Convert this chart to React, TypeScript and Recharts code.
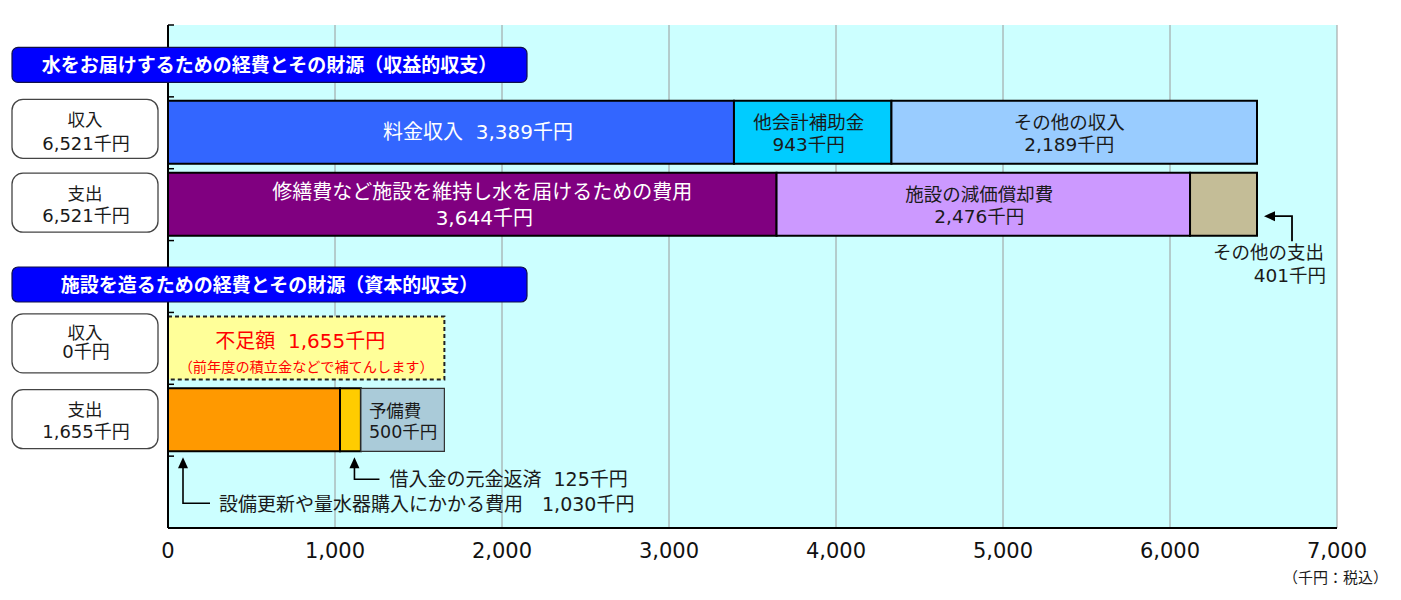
import React from "react";
import { BarChart, Bar, XAxis, YAxis, CartesianGrid, Cell, LabelList, Label } from "recharts";

// ---------- data ----------
const categories = ["収益的収支", "収益的収入", "収益的支出", "資本的収支", "資本的収入", "資本的支出", "注記"];
const headerTitles = [
  "水をお届けするための経費とその財源（収益的収支）",
  "",
  "",
  "施設を造るための経費とその財源（資本的収支）",
  "",
  "",
  "",
];
const rowTitles = ["", "収入", "支出", "", "収入", "支出", ""];
const rowTotals = ["", "6,521千円", "6,521千円", "", "0千円", "1,655千円", ""];

const seg1Values: (number | null)[] = [null, 3389, 3644, null, 1655, 1030, null];
const seg2Values: (number | null)[] = [null, 943, 2476, null, null, 125, null];
const seg3Values: (number | null)[] = [null, 2189, 401, null, null, 500, null];

const seg1Names = ["", "料金収入", "修繕費など施設を維持し水を届けるための費用", "", "不足額", "設備更新や量水器購入にかかる費用", ""];
const seg2Names = ["", "他会計補助金", "施設の減価償却費", "", "", "借入金の元金返済", ""];
const seg3Names = ["", "その他の収入", "その他の支出", "", "", "予備費", ""];
const shortfallNote = "（前年度の積立金などで補てんします）";
const unitNote = "（千円：税込）";

const xTicks = [0, 1000, 2000, 3000, 4000, 5000, 6000, 7000];

const seg1Fill = ["none", "#3366FF", "#800080", "none", "#FFFF99", "#FF9900", "none"];
const seg2Fill = ["none", "#00CCFF", "#CC99FF", "none", "none", "#FFCC00", "none"];
const seg3Fill = ["none", "#99CCFF", "#C4BD97", "none", "none", "#AACBD9", "none"];

const data = categories.map((cat, i) => ({
  cat,
  s1: seg1Values[i],
  s2: seg2Values[i],
  s3: seg3Values[i],
}));

// ---------- layout ----------
const W = 1385;
const H = 584;
const PLOT_LEFT = 160;
const PLOT_TOP = 17;
const PLOT_RIGHT = 1329;
const PLOT_BOTTOM = 520;
const X_AXIS_H = 40;
const BAND = (PLOT_BOTTOM - PLOT_TOP) / categories.length;

const FONT = "'DejaVu Sans', 'Noto Sans CJK JP', sans-serif";
const TXT = "#1a1a1a";

const fmt = (v: number) => `${v.toLocaleString("en-US")}千円`;

function rectOf(p: any) {
  const vb = p.viewBox || {};
  return {
    x: Number(vb.x ?? p.x),
    y: Number(vb.y ?? p.y),
    w: Number(vb.width ?? p.width),
    h: Number(vb.height ?? p.height),
  };
}

function indexOf(p: any, values: (number | null)[]) {
  let v = p.value;
  if (Array.isArray(v)) v = v[1] - v[0];
  const i = values.indexOf(Number(v));
  if (i >= 0) return i;
  return typeof p.index === "number" && values[p.index] != null ? p.index : -1;
}

const T = (props: any) => (
  <text
    fontFamily={FONT}
    dominantBaseline="central"
    textAnchor="middle"
    style={{ whiteSpace: "pre" }}
    {...props}
  />
);

function ArrowUp({ tx, ty, yEnd, xEnd }: { tx: number; ty: number; yEnd: number; xEnd: number }) {
  return (
    <g>
      <polygon points={`${tx},${ty} ${tx - 5},${ty + 11} ${tx + 5},${ty + 11}`} fill="#000" />
      <polyline points={`${tx},${ty + 10} ${tx},${yEnd} ${xEnd},${yEnd}`} fill="none" stroke="#000" strokeWidth={1.6} />
    </g>
  );
}

function renderSeg1(p: any) {
  const i = indexOf(p, seg1Values);
  if (i < 0) return null;
  const { x, y, w, h } = rectOf(p);
  const cx = x + w / 2;
  const cy = y + h / 2;
  const v = seg1Values[i] as number;
  if (i === 1) {
    return (
      <T x={cx + 27} y={cy} fill="#fff" fontSize={20}>
        {`${seg1Names[i]}  ${fmt(v)}`}
      </T>
    );
  }
  if (i === 2) {
    return (
      <g>
        <T x={cx + 10} y={cy - 12} fill="#fff" fontSize={20}>{seg1Names[i]}</T>
        <T x={cx + 12} y={cy + 14} fill="#fff" fontSize={20}>{fmt(v)}</T>
      </g>
    );
  }
  if (i === 4) {
    return (
      <g>
        <T x={cx - 6} y={cy - 7} fill="#FF0000" fontSize={20}>{`${seg1Names[i]}  ${fmt(v)}`}</T>
        <T x={cx} y={cy + 19} fill="#FF0000" fontSize={14.2}>{shortfallNote}</T>
      </g>
    );
  }
  if (i === 5) {
    const tx = x + 15;
    const ty = y + h + 6;
    const yEnd = ty + 46;
    return (
      <g>
        <ArrowUp tx={tx} ty={ty} yEnd={yEnd} xEnd={tx + 27} />
        <T x={tx + 36} y={yEnd + 1} textAnchor="start" fill={TXT} fontSize={19}>
          {`${seg1Names[i]}　${fmt(v)}`}
        </T>
      </g>
    );
  }
  return null;
}

function renderSeg2(p: any) {
  const i = indexOf(p, seg2Values);
  if (i < 0) return null;
  const { x, y, w, h } = rectOf(p);
  const cx = x + w / 2;
  const cy = y + h / 2;
  const v = seg2Values[i] as number;
  if (i === 1 || i === 2) {
    return (
      <g>
        <T x={cx - 4} y={cy - 10} fill={TXT} fontSize={18.5}>{seg2Names[i]}</T>
        <T x={cx - 4} y={cy + 12} fill={TXT} fontSize={18.5}>{fmt(v)}</T>
      </g>
    );
  }
  if (i === 5) {
    const tx = cx + 4;
    const ty = y + h + 6;
    const yEnd = ty + 22;
    return (
      <g>
        <ArrowUp tx={tx} ty={ty} yEnd={yEnd} xEnd={tx + 25} />
        <T x={tx + 35} y={yEnd} textAnchor="start" fill={TXT} fontSize={19}>
          {`${seg2Names[i]}  ${fmt(v)}`}
        </T>
      </g>
    );
  }
  return null;
}

function renderSeg3(p: any) {
  const i = indexOf(p, seg3Values);
  if (i < 0) return null;
  const { x, y, w, h } = rectOf(p);
  const cx = x + w / 2;
  const cy = y + h / 2;
  const v = seg3Values[i] as number;
  if (i === 1) {
    return (
      <g>
        <T x={cx - 5} y={cy - 10} fill={TXT} fontSize={18.5}>{seg3Names[i]}</T>
        <T x={cx - 5} y={cy + 12} fill={TXT} fontSize={18.5}>{fmt(v)}</T>
      </g>
    );
  }
  if (i === 2) {
    const tx = x + w + 7;
    const ty = cy + 12;
    return (
      <g>
        <polygon points={`${tx},${ty} ${tx + 11},${ty - 5} ${tx + 11},${ty + 5}`} fill="#000" />
        <polyline points={`${tx + 10},${ty} ${tx + 28},${ty} ${tx + 28},${ty + 25}`} fill="none" stroke="#000" strokeWidth={1.8} />
        <T x={tx + 60} y={ty + 36} textAnchor="end" fill={TXT} fontSize={18.5}>{seg3Names[i]}</T>
        <T x={tx + 62} y={ty + 59} textAnchor="end" fill={TXT} fontSize={18.5}>{fmt(v)}</T>
      </g>
    );
  }
  if (i === 5) {
    return (
      <g>
        <T x={x + 8} y={cy - 9} textAnchor="start" fill={TXT} fontSize={17.5}>{seg3Names[i]}</T>
        <T x={x + 8} y={cy + 12} textAnchor="start" fill={TXT} fontSize={17.5}>{fmt(v)}</T>
      </g>
    );
  }
  return null;
}

const headerOffsets: Record<number, number> = { 0: 4, 3: 8 };
const boxOffsets: Record<number, number> = { 1: -4, 2: -2, 4: -5, 5: -1 };
const boxLines: Record<number, [number, number]> = { 1: [-9, 15], 2: [-9, 12.5], 4: [-10, 8.5], 5: [-9, 12] };

function CategoryTick(props: any) {
  const { y, payload } = props;
  const i = categories.indexOf(payload?.value);
  const cy = Number(y);
  const top = cy - BAND / 2;
  const parts: React.ReactNode[] = [];
  parts.push(
    <line key="t" x1={PLOT_LEFT} x2={PLOT_LEFT + 6} y1={top} y2={top} stroke="#000" strokeWidth={1.5} />
  );
  if (headerTitles[i]) {
    const hc = cy + (headerOffsets[i] ?? 0);
    parts.push(
      <g key="h">
        <rect x={4} y={hc - 17.5} width={515} height={35} rx={6} ry={6} fill="#0000FF" stroke="#10104a" strokeWidth={1.2} />
        <T x={4 + 257.5} y={hc} fill="#fff" fontSize={19} fontWeight="bold">{headerTitles[i]}</T>
      </g>
    );
  } else if (rowTitles[i]) {
    const bc = cy + (boxOffsets[i] ?? 0);
    const [l1, l2] = boxLines[i] ?? [-10, 13];
    parts.push(
      <g key="b">
        <rect x={4} y={bc - 29.5} width={146} height={59} rx={11} ry={11} fill="#fff" stroke="#444" strokeWidth={1.3} />
        <T x={77} y={bc + l1} fill={TXT} fontSize={17.5}>{rowTitles[i]}</T>
        <T x={78} y={bc + l2} fill={TXT} fontSize={18}>{rowTotals[i]}</T>
      </g>
    );
  }
  return <g>{parts}</g>;
}

function NoteLabel(p: any) {
  const vb = p.viewBox || { x: PLOT_LEFT, y: PLOT_BOTTOM, width: PLOT_RIGHT - PLOT_LEFT, height: X_AXIS_H };
  return (
    <T x={Number(vb.x) + Number(vb.width) + 51} y={Number(vb.y) + 50} textAnchor="end" fill={TXT} fontSize={15}>
      {unitNote}
    </T>
  );
}

export default function App() {
  return (
    <div style={{ width: W, height: H }}>
      <BarChart
        width={W}
        height={H}
        data={data}
        layout="vertical"
        margin={{ top: PLOT_TOP, right: W - PLOT_RIGHT, left: 0, bottom: H - PLOT_BOTTOM - X_AXIS_H }}
        barSize={63}
      >
        <CartesianGrid horizontal={false} vertical stroke="#9a9a9a" strokeWidth={1} fill="#CCFFFF" fillOpacity={1} />
        <XAxis
          type="number"
          domain={[0, 7000]}
          ticks={xTicks}
          interval={0}
          allowDataOverflow
          tickFormatter={(v: number) => v.toLocaleString("en-US")}
          axisLine={{ stroke: "#000", strokeWidth: 2 }}
          tickLine={false}
          tickSize={0}
          tickMargin={15}
          height={X_AXIS_H}
          tick={{ fontSize: 21, fill: "#111", fontFamily: FONT }}
        >
          <Label content={NoteLabel} />
        </XAxis>
        <XAxis
          xAxisId="top"
          orientation="top"
          type="number"
          domain={[0, 7000]}
          ticks={xTicks}
          tick={false}
          tickLine={false}
          axisLine={{ stroke: "#888", strokeWidth: 2 }}
          height={0}
        />
        <YAxis
          type="category"
          dataKey="cat"
          width={PLOT_LEFT}
          interval={0}
          tickLine={false}
          tickSize={0}
          tickMargin={0}
          axisLine={{ stroke: "#000", strokeWidth: 2 }}
          tick={<CategoryTick />}
        />
        <YAxis
          yAxisId="right"
          orientation="right"
          type="category"
          dataKey="cat"
          width={0}
          tick={false}
          tickLine={false}
          axisLine={{ stroke: "#888", strokeWidth: 2 }}
        />
        <Bar dataKey="s1" stackId="a" isAnimationActive={false}>
          {data.map((_, i) => (
            <Cell
              key={i}
              fill={seg1Fill[i]}
              stroke={i === 4 ? "#222" : "#000"}
              strokeWidth={2}
              strokeDasharray={i === 4 ? "4 3" : undefined}
            />
          ))}
          <LabelList dataKey="s1" content={renderSeg1} />
        </Bar>
        <Bar dataKey="s2" stackId="a" isAnimationActive={false}>
          {data.map((_, i) => (
            <Cell key={i} fill={seg2Fill[i]} stroke="#000" strokeWidth={2} />
          ))}
          <LabelList dataKey="s2" content={renderSeg2} />
        </Bar>
        <Bar dataKey="s3" stackId="a" isAnimationActive={false}>
          {data.map((_, i) => (
            <Cell
              key={i}
              fill={seg3Fill[i]}
              stroke={i === 5 ? "#333" : "#000"}
              strokeWidth={i === 5 ? 1.2 : 2}
            />
          ))}
          <LabelList dataKey="s3" content={renderSeg3} />
        </Bar>
      </BarChart>
    </div>
  );
}
